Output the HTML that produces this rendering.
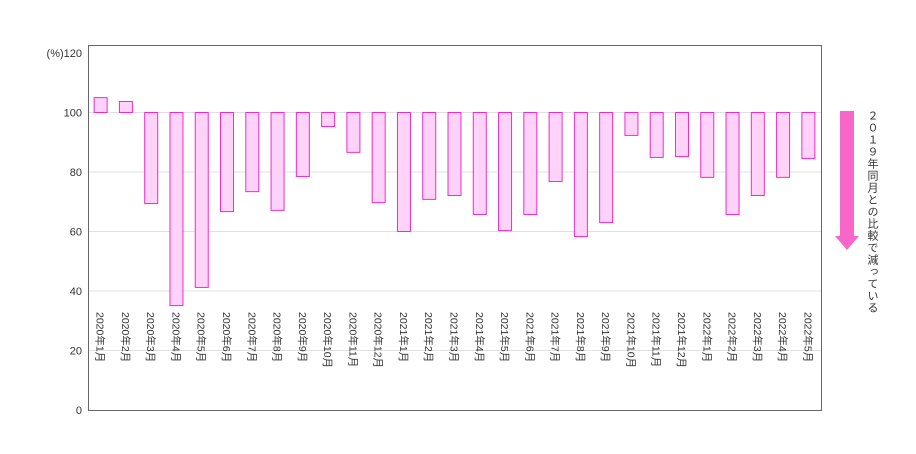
<!DOCTYPE html>
<html><head><meta charset="utf-8"><style>
body{margin:0;background:#fff;width:916px;height:454px;overflow:hidden;font-family:"Liberation Sans","Noto Sans CJK JP",sans-serif;}
svg{position:absolute;left:0;top:0}
.note{position:absolute;left:864px;top:110px;writing-mode:vertical-rl;text-orientation:upright;font-size:11px;color:#333;letter-spacing:1px;}
</style></head><body>
<svg width="916" height="454">
<g id="grid"></g><g id="bars"></g><g id="labels"></g>
<rect x="88.5" y="45.5" width="733" height="365" fill="none" stroke="#666"/>
<rect x="840" y="111" width="14" height="125" fill="#f766c8"/>
<polygon points="835,236 859,236 847,250" fill="#f766c8"/>
</svg>
<div class="note">２０１９年同月との比較で減っている</div>
<script>
const categories=["2020年1月","2020年2月","2020年3月","2020年4月","2020年5月","2020年6月","2020年7月","2020年8月","2020年9月","2020年10月","2020年11月","2020年12月","2021年1月","2021年2月","2021年3月","2021年4月","2021年5月","2021年6月","2021年7月","2021年8月","2021年9月","2021年10月","2021年11月","2021年12月","2022年1月","2022年2月","2022年3月","2022年4月","2022年5月"];
const values=[105,103.7,69.4,35.1,41.2,66.7,73.4,67.1,78.5,95.3,86.6,69.7,60,70.8,72.1,65.7,60.3,65.7,76.8,58.3,63,92.3,84.9,85.2,78.2,65.7,72.1,78.2,84.5];
const yTicks=[0,20,40,60,80,100,120];
const NS="http://www.w3.org/2000/svg";
const x0=88,x1=821,band=(x1-x0)/categories.length;
const y=v=>410-v*2.975;
const xc=i=>x0+band*(i+0.5);
function mk(t,a,p){const e=document.createElementNS(NS,t);for(const k in a)e.setAttribute(k,a[k]);p.appendChild(e);return e;}
const grid=document.getElementById('grid'),bars=document.getElementById('bars'),labels=document.getElementById('labels');
yTicks.forEach(v=>{
 if(v>0&&v<120){const l=mk('line',{x1:x0,x2:x1,y1:y(v),y2:y(v),stroke:'#e0e0e0','stroke-width':1},grid);
 
 }
 const t=mk('text',{x:v==120?82:82,y:y(v)+4,'text-anchor':'end','font-size':11,fill:'#333'},labels);
 t.textContent=(v==120?'(%)':'')+v;
 
 
});
categories.forEach((c,i)=>{
 const v=values[i],top=Math.min(y(v),y(100)),h=Math.abs(y(v)-y(100));
 const r=mk('rect',{x:xc(i)-6.5,y:top,width:13,height:h,fill:'#ffd2fa',stroke:'#f02cc8','stroke-width':1},bars);
 
 
 const t=mk('text',{x:0,y:0,'font-size':10.5,fill:'#333',transform:`translate(${xc(i)-4},312) rotate(90)`},labels);
 t.textContent=c;
 
 
});
</script>
</body></html>
